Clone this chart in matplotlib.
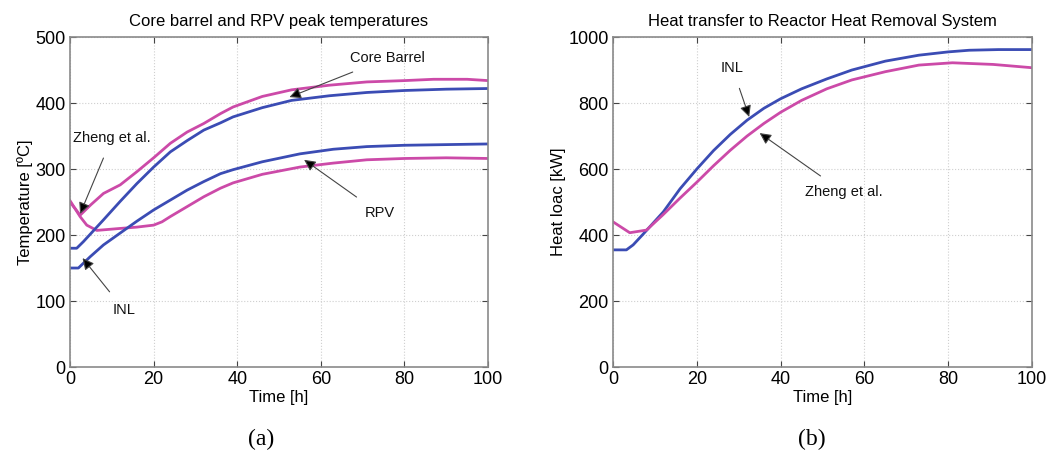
import matplotlib.pyplot as plt

plt.rcParams['font.family'] = ['Liberation Sans', 'DejaVu Sans']

# panel (a): core barrel and RPV peak temperatures
t_cb_zheng = [0, 1, 2.4, 5, 8, 12, 16, 20, 24, 28, 32, 36, 39, 46, 53, 62, 71, 80, 87, 95, 100]
T_cb_zheng = [252, 242, 230, 246, 263, 276, 296, 317, 339, 356, 369, 384, 394, 410, 420, 427, 432, 434, 436, 436, 434]

t_cb_inl = [0, 1.6, 3.2, 8, 12, 16, 20, 24, 28, 32, 36, 39, 46, 53, 62, 71, 80, 90, 100]
T_cb_inl = [180, 180, 190, 223, 251, 278, 303, 326, 343, 359, 370, 379, 393, 404, 411, 416, 419, 421, 422]

t_rpv_zheng = [0, 1.2, 2.4, 4, 6.4, 12, 16, 20, 22, 24, 28, 32, 36, 39, 46, 55, 63, 71, 80, 90, 100]
T_rpv_zheng = [250, 240, 228, 215, 207, 210, 212, 215, 220, 228, 243, 258, 271, 279, 292, 303, 309, 314, 316, 317, 316]

t_rpv_inl = [0, 2, 4.8, 8, 12, 16, 20, 24, 28, 32, 36, 39, 46, 55, 63, 71, 80, 90, 100]
T_rpv_inl = [150, 150, 167, 185, 203, 221, 238, 253, 268, 281, 293, 299, 311, 323, 330, 334, 336, 337, 338]

# panel (b): heat transfer to RHRS
t_q_inl = [0, 3.2, 4.8, 7, 9.5, 12, 16, 20, 24, 28, 32, 36, 40, 45, 51, 57, 65, 73, 80, 85, 92, 100]
q_inl = [355, 355, 370, 400, 435, 470, 540, 600, 656, 705, 748, 784, 813, 843, 873, 900, 927, 945, 955, 960, 962, 962]

t_q_zheng = [0, 4, 8, 11.9, 16, 20, 24, 28, 32, 36, 40, 45, 51, 57, 65, 73, 81, 90.7, 100]
q_zheng = [440, 407, 415, 461, 512, 560, 610, 657, 700, 738, 772, 808, 843, 870, 895, 915, 922, 917, 907]

blue = '#3b4cb4'
magenta = '#cc4aa8'
grey = '#8a8a8a'


def style_axes(ax, ymax, ystep):
    ax.set_xlim(0, 100)
    ax.set_ylim(0, ymax)
    ax.set_xticks(range(0, 101, 20))
    ax.set_yticks(range(0, ymax + 1, ystep))
    ax.grid(True, linestyle=':', color='#cfcfcf', linewidth=0.8)
    ax.tick_params(direction='in', top=True, right=True, labelsize=13,
                   length=4, color='#444444', pad=3)
    for s in ax.spines.values():
        s.set_color(grey)
        s.set_linewidth(1.2)
    ax.set_xlabel('Time [h]', fontsize=12, labelpad=1)


def note(ax, text, xy, xytext, ha='center'):
    ax.annotate(text, xy=xy, xytext=xytext, fontsize=10.5, ha=ha, va='center',
                color='#111111',
                arrowprops=dict(arrowstyle='-|>', ec='#444444', fc='black', lw=0.8,
                                mutation_scale=17, shrinkA=8, shrinkB=0))


fig = plt.figure(figsize=(10.5, 4.63), dpi=100)
ax1 = fig.add_axes([0.0667, 0.2073, 0.3981, 0.7127])
ax2 = fig.add_axes([0.5838, 0.2073, 0.3991, 0.7127])

lw = 2.0
ax1.plot(t_cb_zheng, T_cb_zheng, color=magenta, lw=lw)
ax1.plot(t_rpv_zheng, T_rpv_zheng, color=magenta, lw=lw)
ax1.plot(t_cb_inl, T_cb_inl, color=blue, lw=lw)
ax1.plot(t_rpv_inl, T_rpv_inl, color=blue, lw=lw)
style_axes(ax1, 500, 100)
ax1.set_ylabel('Temperature [ºC]', fontsize=12, labelpad=2)
ax1.set_title('Core barrel and RPV peak temperatures', fontsize=12, pad=8)

note(ax1, 'Core Barrel', (52.5, 409), (76, 468))
note(ax1, 'Zheng et al.', (2.4, 232), (10, 347))
note(ax1, 'RPV', (56, 314), (74, 233))
note(ax1, 'INL', (3, 165), (13, 86))

ax2.plot(t_q_inl, q_inl, color=blue, lw=lw)
ax2.plot(t_q_zheng, q_zheng, color=magenta, lw=lw)
style_axes(ax2, 1000, 200)
ax2.set_ylabel('Heat loac [kW]', fontsize=12, labelpad=2)
ax2.set_title('Heat transfer to Reactor Heat Removal System', fontsize=12, pad=8)

note(ax2, 'INL', (32.5, 758), (28.5, 906))
note(ax2, 'Zheng et al.', (35, 709), (55, 530))

fig.text(0.249, 0.05, '(a)', fontsize=17, ha='center', va='center',
         family=['Liberation Serif', 'DejaVu Serif'])
fig.text(0.773, 0.05, '(b)', fontsize=17, ha='center', va='center',
         family=['Liberation Serif', 'DejaVu Serif'])

fig.savefig('out.png', dpi=100)
